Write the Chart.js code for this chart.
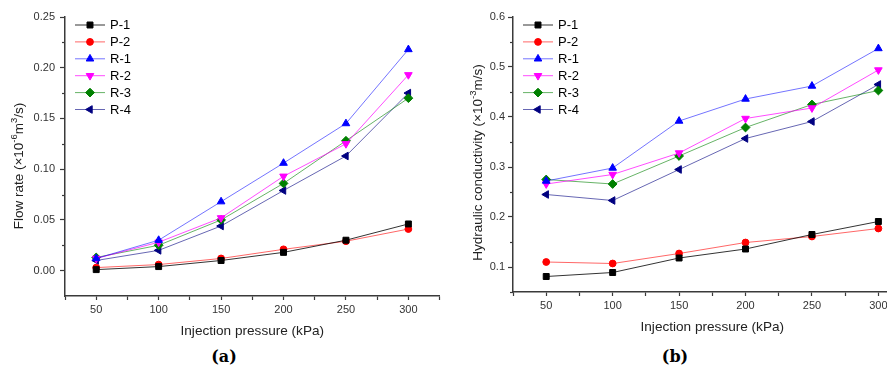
<!DOCTYPE html>
<html>
<head>
<meta charset="utf-8">
<title>Flow rate / hydraulic conductivity vs injection pressure</title>
<script src="https://cdn.jsdelivr.net/npm/chart.js@4.4.0/dist/chart.umd.min.js"></script>
<style>
  html, body { margin: 0; padding: 0; background: #fff; overflow: hidden; }
  body { width: 887px; height: 369px; position: relative; }
  #wrapA { position: absolute; left: 0; top: 0; width: 445px; height: 345px; }
  #wrapB { position: absolute; left: 450px; top: 0; width: 467px; height: 345px; }
  .panel-tag {
    position: absolute; transform: translateX(-50%);
    font: bold 16px "DejaVu Serif", "Liberation Serif", serif; color: #000;
  }
</style>
</head>
<body>
<div id="wrapA"><canvas id="flowChart" width="445" height="345"></canvas></div>
<div id="wrapB"><canvas id="condChart" width="467" height="345"></canvas></div>
<div class="panel-tag" style="left:224px; top:347px;">(a)</div>
<div class="panel-tag" style="left:675px; top:347px;">(b)</div>

<script>
// --- data ---
const pressure = [50, 100, 150, 200, 250, 300];
const seriesNames = ['P-1', 'P-2', 'R-1', 'R-2', 'R-3', 'R-4'];

// (a) flow rate, x10^-6 m3/s
const flowP1 = [0.001, 0.004, 0.010, 0.018, 0.030, 0.046];
const flowP2 = [0.003, 0.006, 0.012, 0.021, 0.029, 0.041];
const flowR1 = [0.012, 0.030, 0.068, 0.106, 0.145, 0.218];
const flowR2 = [0.012, 0.028, 0.052, 0.093, 0.125, 0.193];
const flowR3 = [0.013, 0.025, 0.050, 0.086, 0.128, 0.170];
const flowR4 = [0.010, 0.020, 0.044, 0.079, 0.113, 0.175];

// (b) hydraulic conductivity, x10^-3 m/s
const condP1 = [0.081, 0.089, 0.118, 0.136, 0.165, 0.191];
const condP2 = [0.110, 0.107, 0.127, 0.149, 0.161, 0.177];
const condR1 = [0.272, 0.298, 0.392, 0.436, 0.462, 0.537];
const condR2 = [0.266, 0.285, 0.328, 0.397, 0.418, 0.494];
const condR3 = [0.275, 0.266, 0.322, 0.379, 0.425, 0.453];
const condR4 = [0.245, 0.233, 0.295, 0.357, 0.391, 0.465];

// tick values
const xTickValues = [25, 50, 75, 100, 125, 150, 175, 200, 225, 250, 275, 300, 325];
const flowTicks = [0, 0.05, 0.10, 0.15, 0.20, 0.25];
const flowMinor = [0.025, 0.075, 0.125, 0.175, 0.225];
const condTicks = [0.1, 0.2, 0.3, 0.4, 0.5, 0.6];
const condMinor = [0.05, 0.15, 0.25, 0.35, 0.45, 0.55];

// y titles, split so the exponents can be raised
const flowTitle = [['Flow rate (×10'], ['-6', 'sup'], ['m'], ['3', 'sup'], ['/s)']];
const condTitle = [['Hydraulic conductivity (×10'], ['-3', 'sup'], ['m/s)']];

// --- styling ---
const FONT = '"Liberation Sans", Arial, sans-serif';
const AXIS = '#3a3a3a';

const seriesStyle = {
  'P-1': { color: '#000000', line: 'rgba(0,0,0,0.8)',      shape: 'rect',     r: 4.2, rot: 0 },
  'P-2': { color: '#ff0000', line: 'rgba(255,0,0,0.6)',    shape: 'circle',   r: 3.4, rot: 0 },
  'R-1': { color: '#0000ff', line: 'rgba(0,0,255,0.55)',   shape: 'triangle', r: 4.4, rot: 0 },
  'R-2': { color: '#ff00ff', line: 'rgba(255,0,255,0.7)',  shape: 'triangle', r: 4.4, rot: 180 },
  'R-3': { color: '#008000', line: 'rgba(0,128,0,0.6)',    shape: 'rectRot',  r: 4.4, rot: 0 },
  'R-4': { color: '#000080', line: 'rgba(0,0,128,0.6)',    shape: 'triangle', r: 4.4, rot: 270 }
};

function buildDatasets(seriesValues) {
  return seriesNames.map((name, i) => {
    const st = seriesStyle[name];
    return {
      label: name,
      data: pressure.map((p, k) => ({ x: p, y: seriesValues[i][k] })),
      borderColor: st.line,
      borderWidth: 1,
      tension: 0,
      pointStyle: st.shape,
      pointRadius: st.r,
      pointRotation: st.rot,
      pointBackgroundColor: st.color,
      pointBorderColor: st.color,
      pointBorderWidth: 1
    };
  });
}

// legend drawn inside the plot, top-left, like the original
const insideLegend = {
  id: 'insideLegend',
  afterDatasetsDraw(chart) {
    const ctx = chart.ctx;
    const area = chart.chartArea;
    chart.data.datasets.forEach((ds, i) => {
      const y = area.top + 8 + i * 16.9;
      const x0 = area.left + 10;
      ctx.save();
      ctx.strokeStyle = ds.borderColor;
      ctx.lineWidth = 1;
      ctx.beginPath();
      ctx.moveTo(x0, y);
      ctx.lineTo(x0 + 30, y);
      ctx.stroke();
      ctx.fillStyle = ds.pointBackgroundColor;
      ctx.strokeStyle = ds.pointBorderColor;
      Chart.helpers.drawPoint(ctx, {
        pointStyle: ds.pointStyle, radius: ds.pointRadius,
        rotation: ds.pointRotation, borderWidth: 1
      }, x0 + 15, y);
      ctx.fillStyle = '#000';
      ctx.font = '13px ' + FONT;
      ctx.textBaseline = 'middle';
      ctx.fillText(ds.label, x0 + 35, y + 0.5);
      ctx.restore();
    });
  }
};

// short minor ticks on the y axis
const minorTicks = {
  id: 'minorTicks',
  afterDraw(chart, args, opts) {
    const s = chart.scales.y;
    const ctx = chart.ctx;
    ctx.save();
    ctx.strokeStyle = AXIS;
    ctx.lineWidth = 1.2;
    (opts.values || []).forEach(v => {
      const y = Math.round(s.getPixelForValue(v)) + 0.5;
      ctx.beginPath();
      ctx.moveTo(s.right - 3, y);
      ctx.lineTo(s.right, y);
      ctx.stroke();
    });
    ctx.restore();
  }
};

// rotated y title with real superscripts
const yTitle = {
  id: 'yTitle',
  afterDraw(chart, args, opts) {
    const ctx = chart.ctx;
    const big = '13.5px ' + FONT;
    const small = '9.5px ' + FONT;
    ctx.save();
    let total = 0;
    opts.parts.forEach(p => {
      ctx.font = p[1] === 'sup' ? small : big;
      total += ctx.measureText(p[0]).width;
    });
    ctx.translate(opts.x, opts.y);
    ctx.rotate(-Math.PI / 2);
    ctx.fillStyle = '#222';
    ctx.textBaseline = 'middle';
    let x = -total / 2;
    opts.parts.forEach(p => {
      const sup = p[1] === 'sup';
      ctx.font = sup ? small : big;
      ctx.fillText(p[0], x, sup ? -4.5 : 0);
      x += ctx.measureText(p[0]).width;
    });
    ctx.restore();
  }
};

function makeChart(id, cfg) {
  return new Chart(document.getElementById(id), {
    type: 'line',
    data: { datasets: buildDatasets(cfg.series) },
    options: {
      responsive: false,
      animation: false,
      layout: { padding: { left: 0, top: 17, right: 5, bottom: 0 } },
      plugins: {
        legend: { display: false },
        tooltip: { enabled: false },
        minorTicks: { values: cfg.minor },
        yTitle: { parts: cfg.yTitle, x: cfg.yTitleX, y: cfg.yTitleY }
      },
      scales: {
        x: {
          type: 'linear',
          min: 25, max: 325,
          afterBuildTicks: s => { s.ticks = xTickValues.map(v => ({ value: v })); },
          afterFit: s => { s.height = cfg.xBoxHeight; },
          ticks: {
            autoSkip: false, maxRotation: 0, padding: 3,
            color: '#333', font: { family: FONT, size: 11 },
            callback: v => pressure.includes(v) ? String(v) : ''
          },
          grid: { drawOnChartArea: false, tickLength: 4, tickColor: AXIS, tickWidth: 1.2 },
          border: { display: true, color: AXIS, width: 1.5 },
          title: {
            display: true, text: 'Injection pressure (kPa)', color: '#222',
            font: { family: FONT, size: 13.6 },
            padding: { top: 0, bottom: cfg.xTitlePad }
          }
        },
        y: {
          type: 'linear',
          min: cfg.yMin, max: cfg.yMax,
          afterBuildTicks: s => { s.ticks = cfg.ticks.map(v => ({ value: v })); },
          afterFit: s => { s.width = cfg.yBoxWidth; },
          ticks: {
            padding: cfg.yTickPad, color: '#333', font: { family: FONT, size: 11 },
            callback: v => v.toFixed(cfg.decimals)
          },
          grid: { drawOnChartArea: false, tickLength: 5, tickColor: AXIS, tickWidth: 1.2 },
          border: { display: true, color: AXIS, width: 1.5 },
          title: { display: false }
        }
      }
    },
    plugins: [insideLegend, minorTicks, yTitle]
  });
}

makeChart('flowChart', {
  series: [flowP1, flowP2, flowR1, flowR2, flowR3, flowR4],
  yMin: -0.025, yMax: 0.25, ticks: flowTicks, minor: flowMinor, decimals: 2,
  yTitle: flowTitle, yTitleX: 19, yTitleY: 166,
  yBoxWidth: 65, yTickPad: 5,
  xBoxHeight: 49, xTitlePad: 5.5
});

makeChart('condChart', {
  series: [condP1, condP2, condR1, condR2, condR3, condR4],
  yMin: 0.05, yMax: 0.6, ticks: condTicks, minor: condMinor, decimals: 1,
  yTitle: condTitle, yTitleX: 28, yTitleY: 162.5,
  yBoxWidth: 63, yTickPad: 3,
  xBoxHeight: 53, xTitlePad: 9.5
});
</script>
</body>
</html>
